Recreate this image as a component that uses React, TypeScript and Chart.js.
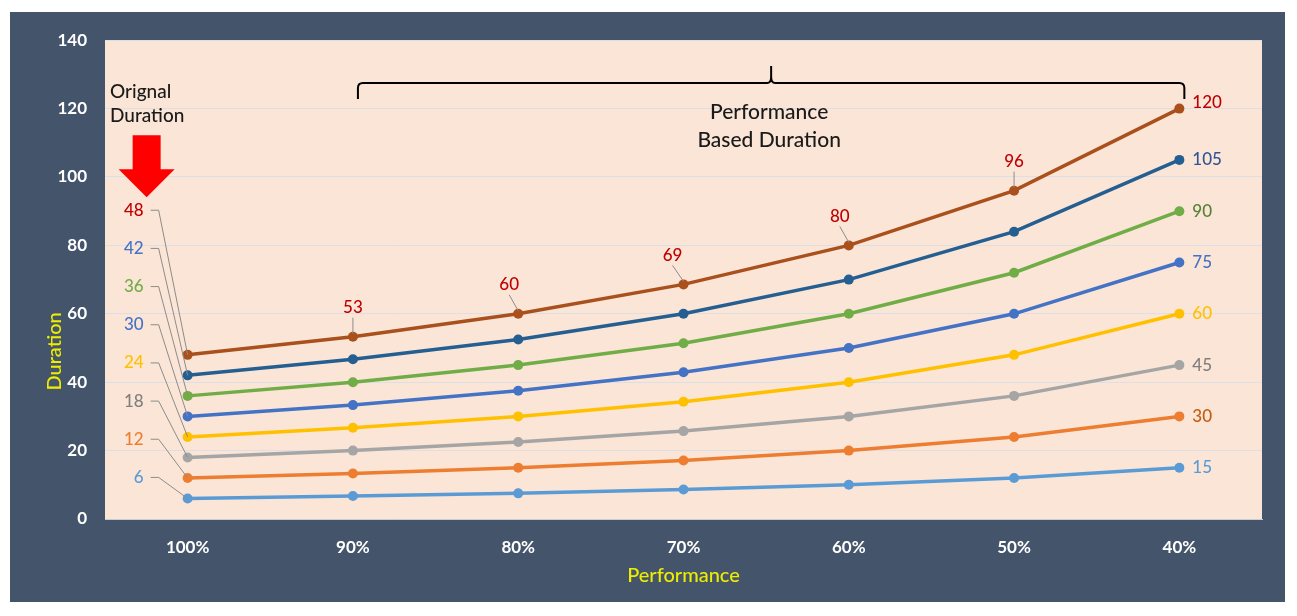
import { useEffect, useRef } from 'react'
import { Chart, registerables } from 'chart.js'

Chart.register(...registerables)

const categories = ['100%', '90%', '80%', '70%', '60%', '50%', '40%']

const d48 = [48, 53.3, 60, 68.6, 80, 96, 120]
const d42 = [42, 46.7, 52.5, 60, 70, 84, 105]
const d36 = [36, 40, 45, 51.4, 60, 72, 90]
const d30 = [30, 33.3, 37.5, 42.9, 50, 60, 75]
const d24 = [24, 26.7, 30, 34.3, 40, 48, 60]
const d18 = [18, 20, 22.5, 25.7, 30, 36, 45]
const d12 = [12, 13.3, 15, 17.1, 20, 24, 30]
const d6 = [6, 6.7, 7.5, 8.6, 10, 12, 15]

const seriesData = [d48, d42, d36, d30, d24, d18, d12, d6]
const lineColors = ['#A9501C', '#255E91', '#70AD47', '#4472C4', '#FFC000', '#A5A5A5', '#ED7D31', '#5B9BD5']
const leftLabelColors = ['#C00000', '#4472C4', '#70AD47', '#4472C4', '#FFC000', '#7F7F7F', '#ED7D31', '#5B9BD5']
const rightLabelColors = ['#C00000', '#2F5597', '#548235', '#4472C4', '#FFC000', '#7F7F7F', '#C55A11', '#5B9BD5']

const yTicks = [0, 20, 40, 60, 80, 100, 120, 140]

const FONT = 'Lato, "Open Sans", sans-serif'

const annotationPlugin = {
  id: 'annotations',
  beforeDraw(chart: any) {
    const { ctx, chartArea: a, width, height } = chart
    ctx.save()
    ctx.fillStyle = '#44546A'
    ctx.fillRect(0, 0, width, height)
    ctx.fillStyle = '#FBE5D6'
    ctx.fillRect(a.left, a.top, a.right - a.left, a.bottom - a.top)
    ctx.restore()
  },
  afterDatasetsDraw(chart: any) {
    const { ctx, chartArea: a } = chart
    const xs = chart.scales.x
    const ys = chart.scales.y
    ctx.save()

    // axis titles
    ctx.fillStyle = '#EDED00'
    ctx.font = `500 20px ${FONT}`
    ctx.textAlign = 'center'
    ctx.textBaseline = 'middle'
    ctx.fillText('Performance', (a.left + a.right) / 2, a.bottom + 57)
    ctx.save()
    ctx.translate(a.left - 50, ys.getPixelForValue(49))
    ctx.rotate(-Math.PI / 2)
    ctx.fillText('Duration', 0, 0)
    ctx.restore()

    const x0 = xs.getPixelForValue(0)
    const xLast = xs.getPixelForValue(categories.length - 1)

    // left labels with leader lines
    ctx.font = `500 17px ${FONT}`
    seriesData.forEach((d, i) => {
      const py = ys.getPixelForValue(d[0])
      const ly = ys.getPixelForValue(d[0] * 1.86 + 1)
      ctx.strokeStyle = '#8C8C8C'
      ctx.lineWidth = 1
      ctx.beginPath()
      ctx.moveTo(x0 - 37, ly)
      ctx.lineTo(x0 - 29, ly)
      ctx.lineTo(x0, py)
      ctx.stroke()
      ctx.fillStyle = leftLabelColors[i]
      ctx.textAlign = 'right'
      ctx.fillText(String(d[0]), x0 - 44, ly)
    })

    // right labels
    ctx.textAlign = 'left'
    seriesData.forEach((d, i) => {
      const v = d[d.length - 1]
      const py = ys.getPixelForValue(v) - (i === 0 ? 6 : 0)
      ctx.fillStyle = rightLabelColors[i]
      ctx.fillText(String(v), xLast + 13, py)
    })

    // top labels on the top series
    const dx = [0, 0, -9, -11, -9, 0]
    ctx.textAlign = 'center'
    for (let j = 1; j < d48.length - 1; j++) {
      const px = xs.getPixelForValue(j)
      const py = ys.getPixelForValue(d48[j])
      const lx = px + dx[j]
      const ly = py - 29
      ctx.strokeStyle = '#8C8C8C'
      ctx.lineWidth = 1
      ctx.beginPath()
      ctx.moveTo(lx, ly + 10)
      ctx.lineTo(px, py - 3)
      ctx.stroke()
      ctx.fillStyle = '#C00000'
      ctx.fillText(String(Math.round(d48[j])), lx, ly)
    }

    // "Orignal Duration" note and red arrow
    ctx.fillStyle = '#1A1A1A'
    ctx.font = `500 19px ${FONT}`
    ctx.textAlign = 'left'
    ctx.fillText('Orignal', a.left + 5, a.top + 52)
    ctx.fillText('Duration', a.left + 5, a.top + 76)

    const ax = x0 - 41
    const at = a.top + 95
    ctx.fillStyle = '#FF0000'
    ctx.beginPath()
    ctx.moveTo(ax - 14, at)
    ctx.lineTo(ax + 14, at)
    ctx.lineTo(ax + 14, at + 34)
    ctx.lineTo(ax + 28, at + 34)
    ctx.lineTo(ax, at + 62)
    ctx.lineTo(ax - 28, at + 34)
    ctx.lineTo(ax - 14, at + 34)
    ctx.closePath()
    ctx.fill()

    // brace over the reduced-performance range
    const bl = xs.getPixelForValue(1) + 5
    const br = xs.getPixelForValue(categories.length - 1) + 5
    const by = ys.getPixelForValue(127.5)
    const bm = xs.getPixelForValue(3.5) + 5
    ctx.strokeStyle = '#000000'
    ctx.lineWidth = 2
    ctx.beginPath()
    ctx.moveTo(bl, by + 16)
    ctx.lineTo(bl, by + 5)
    ctx.quadraticCurveTo(bl, by, bl + 5, by)
    ctx.lineTo(bm - 4, by)
    ctx.quadraticCurveTo(bm, by, bm, by - 6)
    ctx.lineTo(bm, by - 17)
    ctx.moveTo(bm, by - 6)
    ctx.quadraticCurveTo(bm, by, bm + 4, by)
    ctx.lineTo(br - 5, by)
    ctx.quadraticCurveTo(br, by, br, by + 5)
    ctx.lineTo(br, by + 16)
    ctx.stroke()

    ctx.fillStyle = '#1A1A1A'
    ctx.font = `500 21px ${FONT}`
    ctx.textAlign = 'center'
    ctx.fillText('Performance', bm - 2, by + 29)
    ctx.fillText('Based Duration', bm - 2, by + 57)

    ctx.restore()
  }
}

export default function App() {
  const chartRef = useRef<HTMLCanvasElement>(null)
  const chartInstance = useRef<Chart | null>(null)

  useEffect(() => {
    if (!chartRef.current) return

    const config: any = {
      type: 'line',
      data: {
        labels: categories,
        datasets: seriesData.map((d, i) => ({
          label: String(d[0]),
          data: d,
          borderColor: lineColors[i],
          backgroundColor: lineColors[i],
          borderWidth: 3.5,
          pointRadius: 5,
          pointBorderWidth: 0,
          tension: 0
        }))
      },
      options: {
        responsive: true,
        maintainAspectRatio: false,
        animation: false,
        layout: { padding: { left: 0, right: 23, top: 26, bottom: 0 } },
        plugins: {
          legend: { display: false },
          title: { display: false },
          tooltip: { enabled: false }
        },
        scales: {
          x: {
            offset: true,
            grid: { display: false, drawTicks: false },
            border: { display: true, color: '#C9CDD3' },
            ticks: { color: '#FFFFFF', padding: 18, font: { family: FONT, size: 17, weight: 'bold' } },
            afterFit: (scale: any) => { scale.height = 83 }
          },
          y: {
            min: 0,
            max: 140,
            afterBuildTicks: (scale: any) => { scale.ticks = yTicks.map(v => ({ value: v })) },
            grid: { color: '#DCDFE4', drawTicks: false },
            border: { display: false },
            ticks: { color: '#FFFFFF', padding: 18, font: { family: FONT, size: 17, weight: 'bold' } },
            afterFit: (scale: any) => { scale.width = 95 }
          }
        }
      },
      plugins: [annotationPlugin]
    }

    if (chartInstance.current) chartInstance.current.destroy()
    chartInstance.current = new Chart(chartRef.current, config)

    return () => {
      if (chartInstance.current) chartInstance.current.destroy()
    }
  }, [])

  return (
    <div style={{ position: 'absolute', left: 10, top: 12, width: 1275, height: 590 }}>
      <canvas ref={chartRef} />
    </div>
  )
}
